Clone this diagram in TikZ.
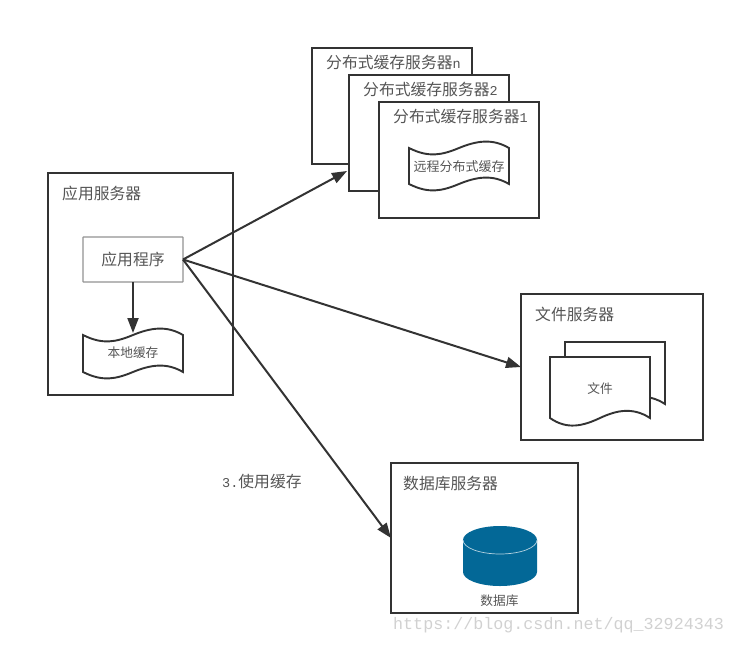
\documentclass[tikz,border=0pt]{standalone}
\usepackage{fontspec}
\setmainfont{Noto Sans CJK SC}[UprightFont=*]
\newfontfamily\monof{Liberation Mono}
\usetikzlibrary{arrows.meta}
\definecolor{ink}{HTML}{333333}
\definecolor{txt}{HTML}{555555}
\definecolor{dbblue}{HTML}{036897}
\newcommand{\wavedoc}[3]{% x, top y, bottom y
  \draw[shape line] (#1,#2) .. controls (#1+20,#2+10) and (#1+33,#2+7) .. (#1+50,#2) .. controls (#1+67,#2-7) and (#1+83,#2-10) .. (#1+100,#2)
   -- (#1+100,#3) .. controls (#1+83,#3-10) and (#1+67,#3-7) .. (#1+50,#3) .. controls (#1+33,#3+7) and (#1+20,#3+10) .. (#1,#3) -- cycle;}
\newcommand{\paperdoc}[3]{% x, top y, bottom y
  \draw[shape line] (#1,#2) -- (#1+100,#2) -- (#1+100,#3) .. controls (#1+83,#3-11) and (#1+67,#3-8) .. (#1+50,#3) .. controls (#1+33,#3+8) and (#1+17,#3+12) .. (#1,#3) -- cycle;}
\newcommand{\lat}[1]{{\monof\fontsize{13.5}{14}\selectfont #1}}
\tikzset{
  x=1pt,y=-1pt,
  shape line/.style={draw=ink,line width=1.9pt,fill=white,line join=miter},
  box/.style={draw=ink,line width=1.9pt,fill=white,inner sep=0pt,outer sep=0pt},
  titletext/.style={text=txt,font=\fontsize{15.8}{17}\selectfont,anchor=west,inner sep=0pt},
  smalltext/.style={text=txt,font=\fontsize{12.7}{13}\selectfont,inner sep=0pt,outer sep=0pt},
  link/.style={draw=ink,line width=2pt,-{Triangle[length=15pt,width=11pt]}},
}
\begin{document}
\begin{tikzpicture}
\useasboundingbox (0,0) rectangle (735,645);
% application server
\node[box,minimum width=185pt,minimum height=222pt] (appsrv) at (140.5,284) {};
\node[titletext] (appsrvt) at (62,193.5) {应用服务器};
\node[draw=gray!85,line width=1.4pt,fill=white,minimum width=100pt,minimum height=45pt,inner sep=0pt,outer sep=0pt,text=txt,font=\fontsize{15.8}{17}\selectfont,rounded corners=0.5pt] (prog) at (133,259.5) {应用程序};
\wavedoc{83}{335}{372}
\node[smalltext,minimum width=100pt,minimum height=40pt] (cache) at (133,353) {本地缓存};
% distributed cache servers
\node[box,minimum width=160pt,minimum height=116pt] (dn) at (392,106) {};
\node[titletext] (dnt) at (326,62.5) {分布式缓存服务器\lat{n}};
\node[box,minimum width=160pt,minimum height=116pt] (d2) at (429,133) {};
\node[titletext] (d2t) at (363,89.5) {分布式缓存服务器\lat{2}};
\node[box,minimum width=160pt,minimum height=116pt] (d1) at (459,160) {};
\node[titletext] (d1t) at (393,116.5) {分布式缓存服务器\lat{1}};
\wavedoc{409}{148}{184}
\node[smalltext,font=\fontsize{13}{14}\selectfont] (remote) at (459,166.5) {远程分布式缓存};
% file server
\node[box,minimum width=182pt,minimum height=146pt] (fsrv) at (612,367) {};
\node[titletext] (fsrvt) at (535,314.5) {文件服务器};
\paperdoc{565}{342}{404}
\paperdoc{550}{357}{418}
\node[smalltext] (filet) at (600,388.5) {文件};
% database server
\node[box,minimum width=187pt,minimum height=150pt] (dbsrv) at (484.5,538) {};
\node[titletext] (dbsrvt) at (403,483.5) {数据库服务器};
\fill[dbblue] (463,540) arc[x radius=37,y radius=14,start angle=180,end angle=360] -- (537,572) arc[x radius=37,y radius=14,start angle=0,end angle=180] -- cycle;
\draw[white!70!dbblue,line width=0.7pt] (463,540) arc[x radius=37,y radius=14,start angle=180,end angle=0];
\node[smalltext] (dbt) at (499.5,601) {数据库};
% connectors
\coordinate (d2hit) at (347,171);
\draw[link] (prog.east) -- (d2hit);
\draw[link] (prog.east) -- (fsrv.west);
\draw[link] (prog.east) -- (dbsrv.west);
\draw[link] (prog.south) -- (cache.north);
% free labels
\node[titletext] (use) at (222,481.5) {\lat{3.}使用缓存};
\node[text=black!18,font=\monof\fontsize{16.7}{17}\selectfont,anchor=west,inner sep=0pt] (mark) at (393,625) {https://blog.csdn.net/qq\_32924343};
\end{tikzpicture}
\end{document}
